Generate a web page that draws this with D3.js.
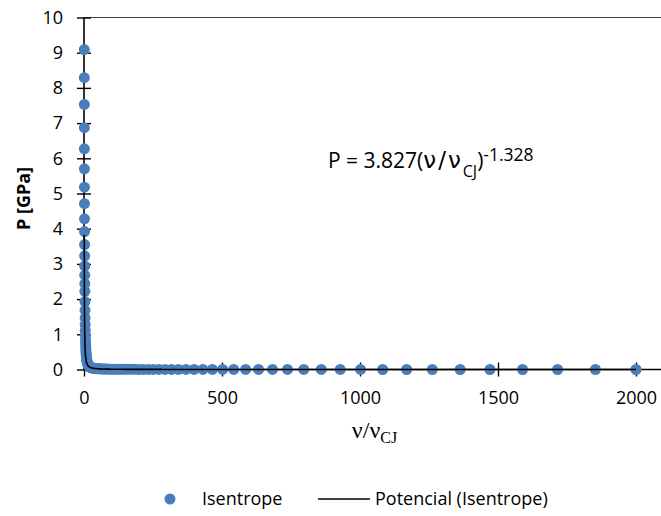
<!DOCTYPE html>
<html>
<head>
<meta charset="utf-8">
<script src="https://cdn.jsdelivr.net/npm/d3@7"></script>
<style>
  html, body { margin: 0; padding: 0; background: #fff; }
  svg { display: block; font-family: "Open Sans", sans-serif; }
</style>
</head>
<body>
<svg id="chart" width="661" height="516"></svg>
<script>
// Specific volume ratio v/v_CJ along the isentrope
const volumeRatio = [
  1, 1.0798, 1.166, 1.2591, 1.3596, 1.4681, 1.5853, 1.7118, 1.8484, 1.9959,
  2.155, 2.327, 2.513, 2.713, 2.930, 3.164, 3.416, 3.689, 3.983, 4.301,
  4.644, 5.015, 5.415, 5.847, 6.314, 6.818, 7.362, 7.950, 8.584, 9.269,
  10.01, 10.81, 11.67, 12.60, 13.61, 14.69, 15.86, 17.13, 18.50, 19.97,
  21.57, 23.29, 25.15, 27.15, 29.32, 31.66, 34.19, 36.92, 39.86, 43.04,
  46.48, 50.19, 54.19, 58.52, 63.19, 68.23, 73.68, 79.56, 85.91, 92.76,
  100.2, 108.2, 116.8, 126.1, 136.2, 147.1, 158.8, 171.5, 185.2, 199.9,
  215.9, 233.1, 251.7, 271.8, 293.5, 316.9, 342.2, 369.5, 399.0, 430.8,
  465.2, 502.3, 542.4, 585.7, 632.4, 682.9, 737.4, 796.2, 859.8, 928.4,
  1002, 1082, 1169, 1262, 1363, 1471, 1589, 1716, 1853, 2000
];

// Pressure on the isentrope [GPa]
const pressure = [
  9.09, 8.29, 7.53, 6.87, 6.27, 5.70, 5.18, 4.71, 4.28, 3.92,
  3.55, 3.23, 2.94, 2.68, 2.44, 2.22, 1.931, 1.680, 1.462, 1.272,
  1.107, 0.963, 0.838, 0.729, 0.634, 0.552, 0.480, 0.418, 0.363, 0.316,
  0.275, 0.239, 0.208, 0.181, 0.158, 0.137, 0.119, 0.104, 0.090, 0.079,
  0.068, 0.0614, 0.0555, 0.0501, 0.0452, 0.0408, 0.0369, 0.0333, 0.0301, 0.0271,
  0.0245, 0.0221, 0.0200, 0.0180, 0.0163, 0.0147, 0.0133, 0.0120, 0.0108, 0.0098,
  0.0088, 0.0080, 0.0072, 0.0065, 0.0059, 0.0053, 0.0048, 0.0043, 0.0039, 0.0035,
  0.0032, 0.0029, 0.0026, 0.0023, 0.0021, 0.0019, 0.0017, 0.0016, 0.0014, 0.0013,
  0.0011, 0.0010, 0.00093, 0.00084, 0.00076, 0.00068, 0.00062, 0.00056, 0.00050, 0.00045,
  0.00041, 0.00037, 0.00033, 0.00030, 0.00027, 0.00025, 0.00022, 0.00020, 0.00018, 0.00016
];

// Power-law trendline P = a (v/v_CJ)^b
const fitCoef = 3.827;
const fitExp = -1.328;

const xTicks = [0, 500, 1000, 1500, 2000];
const yTicks = [0, 1, 2, 3, 4, 5, 6, 7, 8, 9, 10];
const seriesName = "Isentrope";
const trendName = "Potencial (Isentrope)";

const markerColor = "#4a7ebb";
const svg = d3.select("#chart");

const x = d3.scaleLinear().domain([0, 2000]).range([84, 636]);
const y = d3.scaleLinear().domain([0, 10]).range([369.5, 17.5]);
const plotRight = 661;

// top border of the plot area
svg.append("line")
  .attr("x1", x(0)).attr("x2", plotRight)
  .attr("y1", y(10)).attr("y2", y(10))
  .attr("stroke", "#404040").attr("stroke-width", 1);

// y axis
const yAxis = svg.append("g")
  .attr("transform", `translate(${x(0)},0)`)
  .call(d3.axisLeft(y).tickValues(yTicks).tickSize(7).tickPadding(14).tickFormat(d3.format("d")));
yAxis.select(".domain").remove();
yAxis.append("line").attr("y1", y(0)).attr("y2", y(10)).attr("stroke", "#000").attr("stroke-width", 1.6);
yAxis.selectAll(".tick line").attr("x1", -7).attr("x2", 7).attr("stroke", "#000").attr("stroke-width", 1.4);
yAxis.selectAll(".tick text").attr("font-size", 18).attr("fill", "#000").attr("font-family", "Open Sans");

// x axis
const xAxis = svg.append("g")
  .attr("transform", `translate(0,${y(0)})`)
  .call(d3.axisBottom(x).tickValues(xTicks).tickSize(7).tickPadding(15).tickFormat(d3.format("d")));
xAxis.select(".domain").remove();
xAxis.append("line").attr("x1", x(0)).attr("x2", plotRight).attr("stroke", "#000").attr("stroke-width", 1.6);
xAxis.selectAll(".tick line").attr("y1", -7).attr("y2", 7).attr("stroke", "#000").attr("stroke-width", 1.4);
xAxis.selectAll(".tick text").attr("font-size", 18).attr("fill", "#000").attr("font-family", "Open Sans");

// data markers
const points = volumeRatio.map((v, i) => ({ v, p: pressure[i] }));
svg.append("g").selectAll("circle")
  .data(points)
  .join("circle")
  .attr("cx", d => x(d.v))
  .attr("cy", d => y(d.p))
  .attr("r", 5.5)
  .attr("fill", markerColor);

// trendline over the data range
const vMin = d3.min(volumeRatio), vMax = d3.max(volumeRatio);
const samples = d3.range(0, 601).map(i => vMin * Math.pow(vMax / vMin, i / 600));
const line = d3.line()
  .x(v => x(v))
  .y(v => y(fitCoef * Math.pow(v, fitExp)));
svg.append("path")
  .datum(samples)
  .attr("d", line)
  .attr("fill", "none")
  .attr("stroke", "#000")
  .attr("stroke-width", 1.6);

// fit equation
const eq = svg.append("text")
  .attr("x", 328).attr("y", 168)
  .attr("font-family", "Open Sans").attr("font-size", 21).attr("fill", "#000");
eq.append("tspan").text(`P = ${fitCoef}(`);
eq.append("tspan").attr("font-family", "DejaVu Sans").attr("font-size", 23)
  .attr("letter-spacing", 2).text("ν/ν");
eq.append("tspan").attr("font-size", 16).attr("dy", 9).text("CJ");
eq.append("tspan").attr("dy", -9).text(")");
eq.append("tspan").attr("font-size", 17.5).attr("dy", -7).text(`${fitExp}`);

// axis titles
svg.append("text")
  .attr("transform", `translate(30,${(y(0) + y(10)) / 2 + 5}) rotate(-90)`)
  .attr("text-anchor", "middle")
  .attr("font-family", "Open Sans").attr("font-weight", "bold").attr("font-size", 18)
  .text("P [GPa]");

const xt = svg.append("text")
  .attr("x", (x(0) + plotRight) / 2 + 2).attr("y", 438)
  .attr("text-anchor", "middle")
  .attr("font-family", "'Liberation Serif', serif").attr("font-size", 24).attr("fill", "#000");
xt.append("tspan").text("ν/ν");
xt.append("tspan").attr("font-size", 16).attr("dy", 5).text("CJ");

// legend
const lg = svg.append("g");
lg.append("circle").attr("cx", 170).attr("cy", 499).attr("r", 5.5).attr("fill", markerColor);
lg.append("text").attr("x", 202).attr("y", 505).attr("font-size", 18).attr("font-family", "Open Sans").text(seriesName);
lg.append("line").attr("x1", 318).attr("x2", 370).attr("y1", 499).attr("y2", 499)
  .attr("stroke", "#000").attr("stroke-width", 1.6);
lg.append("text").attr("x", 375).attr("y", 505).attr("font-size", 18).attr("font-family", "Open Sans").text(trendName);
</script>
</body>
</html>
